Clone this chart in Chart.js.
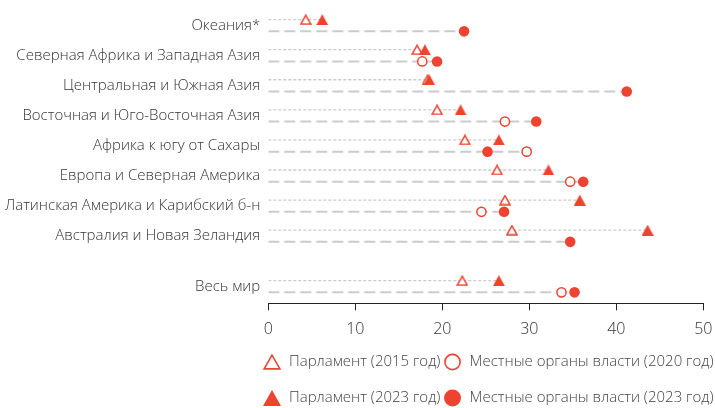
<!DOCTYPE html>
<html><head><meta charset="utf-8">
<script src="https://cdn.jsdelivr.net/npm/chart.js@4/dist/chart.umd.min.js"></script>
<style>html,body{margin:0;padding:0;background:#fff}#wrap{width:715px;height:408px;position:relative}</style>
</head><body><div id="wrap"><canvas id="c"></canvas></div>
<script>
// ---- data ----
const regions = ['Океания*', 'Северная Африка и Западная Азия', 'Центральная и Южная Азия',
  'Восточная и Юго-Восточная Азия', 'Африка к югу от Сахары', 'Европа и Северная Америка',
  'Латинская Америка и Карибский б-н', 'Австралия и Новая Зеландия', 'Весь мир'];
const parliament2015 = [4.3, 17.1, 18.3, 19.4, 22.6, 26.3, 27.2, 28.0, 22.3];
const parliament2023 = [6.2, 18.0, 18.5, 22.1, 26.5, 32.2, 35.8, 43.6, 26.5];
const local2020 = [null, 17.7, null, 27.2, 29.7, 34.7, 24.5, null, 33.7];
const local2023 = [22.5, 19.4, 41.2, 30.8, 25.2, 36.2, 27.1, 34.7, 35.2];
const xTickValues = [0, 10, 20, 30, 40, 50];
const legendLabels = ['Парламент (2015 год)', 'Местные органы власти (2020 год)',
  'Парламент (2023 год)', 'Местные органы власти (2023 год)'];

// ---- style ----
const RED = '#ef4331';
const LINE = '#cbcbcb';
const FONT = '"Open Sans", "Noto Sans", sans-serif';
const TEXT = '#333333';

// row layout: category index, the last row ("Весь мир") separated by a gap
const GAP = 0.68;
const rowPos = regions.map((_, i) => i === regions.length - 1 ? i + GAP : i);
const OFF = 0.195;
const FIRST_ROW_PX = 25.5, LAST_ROW_PX = 286.5;

function triCanvas(w, h, filled, lw) {
  const c = document.createElement('canvas');
  c.width = w; c.height = h;
  const g = c.getContext('2d');
  const p = filled ? 0 : lw / 2 + 0.3;
  g.beginPath();
  g.moveTo(w / 2, p);
  g.lineTo(w - p, h - p);
  g.lineTo(p, h - p);
  g.closePath();
  if (filled) { g.fillStyle = RED; g.fill(); }
  else { g.fillStyle = '#fff'; g.fill(); g.lineWidth = lw; g.strokeStyle = RED; g.lineJoin = 'miter'; g.stroke(); }
  return c;
}
const triOpen = triCanvas(12, 11, false, 1.5);
const triFill = triCanvas(12, 11, true, 0);
const triOpenL = triCanvas(18, 16, false, 1.6);
const triFillL = triCanvas(18, 16, true, 0);

function pts(arr, off) {
  const out = [];
  arr.forEach((v, i) => { if (v != null) out.push({ x: v, y: rowPos[i] + off }); });
  return out;
}

const datasets = [];
// marker datasets (lower order drawn on top)
datasets.push({ label: legendLabels[2], data: pts(parliament2023, -OFF), pointStyle: triFill, pointRadius: 6, order: 0 });
datasets.push({ label: legendLabels[3], data: pts(local2023, OFF), pointStyle: 'circle', pointRadius: 5.3,
  backgroundColor: RED, borderColor: RED, borderWidth: 0, pointBorderWidth: 0, order: 1 });
datasets.push({ label: legendLabels[0], data: pts(parliament2015, -OFF), pointStyle: triOpen, pointRadius: 6, order: 2 });
datasets.push({ label: legendLabels[1], data: pts(local2020, OFF), pointStyle: 'circle', pointRadius: 4.6,
  backgroundColor: '#fff', borderColor: RED, borderWidth: 1.5, pointBorderWidth: 1.5, order: 3 });
// dashed guide lines from 0 to the largest value of each row
regions.forEach((r, i) => {
  const pm = Math.max(...[parliament2015[i], parliament2023[i]].filter(v => v != null));
  const lm = Math.max(...[local2020[i], local2023[i]].filter(v => v != null));
  datasets.push({ data: [{ x: 0, y: rowPos[i] - OFF }, { x: pm, y: rowPos[i] - OFF }], showLine: true,
    borderColor: LINE, borderWidth: 1.3, borderDash: [3, 2], pointRadius: 0, order: 10 });
  datasets.push({ data: [{ x: 0, y: rowPos[i] + OFF }, { x: lm, y: rowPos[i] + OFF }], showLine: true,
    borderColor: LINE, borderWidth: 2, borderDash: [11, 5], pointRadius: 0, order: 10 });
});

const legendPlugin = {
  id: 'customLegend',
  afterDraw(chart) {
    const ctx = chart.ctx;
    const items = [
      { label: legendLabels[0], mk: 'triOpen', x: 272, y: 362 },
      { label: legendLabels[1], mk: 'cirOpen', x: 452.5, y: 362 },
      { label: legendLabels[2], mk: 'triFill', x: 272, y: 398 },
      { label: legendLabels[3], mk: 'cirFill', x: 452.5, y: 398 }
    ];
    ctx.save();
    items.forEach(it => {
      if (it.mk === 'triOpen') ctx.drawImage(triOpenL, it.x - 9, it.y - 8);
      else if (it.mk === 'triFill') ctx.drawImage(triFillL, it.x - 9, it.y - 8);
      else {
        ctx.beginPath();
        if (it.mk === 'cirOpen') {
          ctx.arc(it.x, it.y, 7.6, 0, Math.PI * 2);
          ctx.lineWidth = 1.6; ctx.strokeStyle = RED; ctx.fillStyle = '#fff'; ctx.fill(); ctx.stroke();
        } else {
          ctx.arc(it.x, it.y, 8.5, 0, Math.PI * 2);
          ctx.fillStyle = RED; ctx.fill();
        }
      }
      ctx.font = '300 15px ' + FONT;
      ctx.fillStyle = '#444';
      ctx.textBaseline = 'middle';
      ctx.textAlign = 'left';
      ctx.fillText(it.label, it.x + 17, it.y);
    });
    ctx.restore();
  }
};

const chart = new Chart(document.getElementById('c'), {
  type: 'scatter',
  data: { datasets },
  plugins: [legendPlugin],
  options: {
    responsive: true,
    maintainAspectRatio: false,
    animation: false,
    events: [],
    layout: { padding: { left: 0, right: 11.7, top: 0, bottom: 0 } },
    plugins: { legend: { display: false }, tooltip: { enabled: false } },
    scales: {
      x: {
        type: 'linear', min: 0, max: 50,
        afterBuildTicks: s => { s.ticks = xTickValues.map(v => ({ value: v })); },
        ticks: { font: { family: FONT, size: 16, weight: '300' }, color: TEXT, padding: 10, maxRotation: 0 },
        grid: { drawOnChartArea: false, drawTicks: true, tickLength: 7, color: '#222', tickColor: '#222', lineWidth: 1 },
        border: { display: true, color: '#222', width: 1 },
        afterFit: s => { s.height = 104.7; s.paddingLeft = 0; s.paddingRight = 0; }
      },
      y: {
        type: 'linear', reverse: true, min: -0.848, max: 9.239,
        afterBuildTicks: s => { s.ticks = rowPos.map(v => ({ value: v })); },
        ticks: { autoSkip: false, font: { family: FONT, size: 15, weight: '300' }, color: TEXT, padding: 8,
          callback: (v, i) => regions[i] },
        grid: { display: false, drawTicks: false },
        border: { display: false },
        afterFit: s => { s.width = 268.3; s.paddingTop = 0; s.paddingBottom = 0; }
      }
    }
  }
});
// fit the row scale so the first and last rows sit where they do in the reference
(function () {
  const T = chart.chartArea.top, B = chart.chartArea.bottom;
  const last = rowPos[rowPos.length - 1];
  const k = (LAST_ROW_PX - FIRST_ROW_PX) / last;
  const ymin = -(FIRST_ROW_PX - T) / k;
  chart.options.scales.y.min = ymin;
  chart.options.scales.y.max = ymin + (B - T) / k;
  chart.update();
})();
</script></body></html>
